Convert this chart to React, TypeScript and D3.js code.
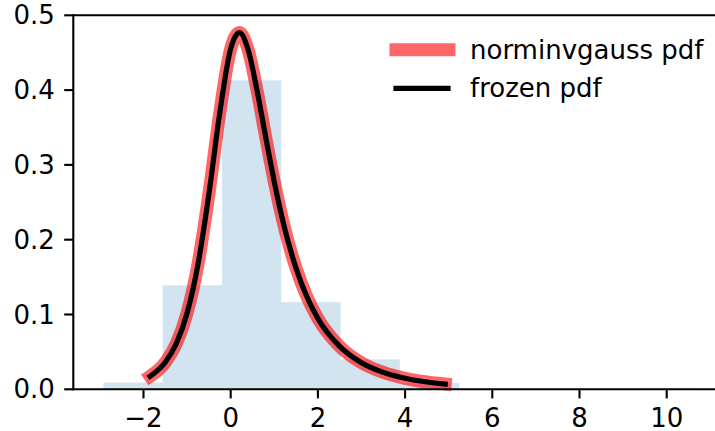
import React from "react";
import * as d3 from "d3";

const binEdges = [-2.92, -1.56, -0.2, 1.16, 2.52, 3.88, 5.24, 6.6, 7.96, 9.32, 10.68];
const binDensity = [0.009, 0.139, 0.413, 0.1165, 0.04, 0.0084, 0, 0, 0, 0.0007];

const pdfX = [-1.85, -1.5, -1.25, -1.0, -0.75, -0.5, -0.25, 0, 0.2, 0.4, 0.6, 0.8, 1.0, 1.25, 1.5, 1.75, 2.0, 2.5, 3.0, 3.5, 4.0, 4.5, 4.92];
const pdfY = [0.0174, 0.0361, 0.0608, 0.102, 0.1673, 0.2609, 0.3699, 0.4554, 0.4769, 0.4539, 0.4009, 0.3381, 0.2772, 0.2123, 0.1617, 0.1234, 0.0947, 0.0573, 0.0355, 0.0226, 0.0147, 0.0097, 0.007];

const xTicks = [-2, 0, 2, 4, 6, 8, 10];
const yTicks = [0, 0.1, 0.2, 0.3, 0.4, 0.5];
const legendLabels = ["norminvgauss pdf", "frozen pdf"];

const W = 715;
const H = 431;
const FONT = "'DejaVu Sans', sans-serif";

export default function App() {
  const x = d3.scaleLinear().domain([-3.61, 11.36]).range([73.3, 726]);
  const y = d3.scaleLinear().domain([0, 0.5]).range([389.3, 15.3]);

  const pts: [number, number][] = pdfX.map((v, i) => [v, pdfY[i]]);
  const line = d3
    .line<[number, number]>()
    .x((d) => x(d[0]))
    .y((d) => y(d[1]))
    .curve(d3.curveMonotoneX);
  const pathD = line(pts) || "";

  const axisLeft = x.range()[0];
  const axisBottom = y(0);
  const axisTop = y(0.5);

  return (
    <svg
      width={W}
      height={H}
      style={{ position: "absolute", left: 0, top: 0, background: "white" }}
      fontFamily={FONT}
    >
      <rect x={0} y={0} width={W} height={H} fill="white" />
      {binDensity.map((d, i) =>
        d > 0 ? (
          <rect
            key={i}
            x={x(binEdges[i])}
            y={y(d)}
            width={x(binEdges[i + 1]) - x(binEdges[i])}
            height={y(0) - y(d)}
            fill="#1f77b4"
            fillOpacity={0.2}
          />
        ) : null
      )}
      <path
        d={pathD}
        fill="none"
        stroke="red"
        strokeOpacity={0.6}
        strokeWidth={13}
        strokeLinecap="square"
        strokeLinejoin="round"
      />
      <path
        d={pathD}
        fill="none"
        stroke="black"
        strokeWidth={5.2}
        strokeLinecap="square"
        strokeLinejoin="round"
      />
      {/* spines */}
      <line x1={axisLeft} x2={axisLeft} y1={axisTop} y2={axisBottom} stroke="black" strokeWidth={2.1} strokeLinecap="square" />
      <line x1={axisLeft} x2={W + 5} y1={axisBottom} y2={axisBottom} stroke="black" strokeWidth={2.1} strokeLinecap="square" />
      <line x1={axisLeft} x2={W + 5} y1={axisTop} y2={axisTop} stroke="black" strokeWidth={2.1} strokeLinecap="square" />
      {/* y ticks */}
      {yTicks.map((t) => (
        <g key={"y" + t}>
          <line x1={axisLeft - 9.1} x2={axisLeft} y1={y(t)} y2={y(t)} stroke="black" strokeWidth={2.1} />
          <text
            x={axisLeft - 18.5}
            y={y(t)}
            textAnchor="end"
            dominantBaseline="central"
            fontSize={26}
            fill="black"
          >
            {t.toFixed(1)}
          </text>
        </g>
      ))}
      {/* x ticks */}
      {xTicks.map((t) => (
        <g key={"x" + t}>
          <line x1={x(t)} x2={x(t)} y1={axisBottom} y2={axisBottom + 9.1} stroke="black" strokeWidth={2.1} />
          <text x={x(t)} y={427} textAnchor="middle" fontSize={26} fill="black">
            {t < 0 ? "\u2212" + Math.abs(t) : String(t)}
          </text>
        </g>
      ))}
      {/* legend */}
      <line x1={396} x2={449} y1={49.7} y2={49.7} stroke="red" strokeOpacity={0.6} strokeWidth={13} strokeLinecap="square" />
      <line x1={396} x2={448} y1={88.3} y2={88.3} stroke="black" strokeWidth={5.2} strokeLinecap="square" />
      <text x={470} y={58.5} fontSize={26} fill="black">
        {legendLabels[0]}
      </text>
      <text x={470} y={96.8} fontSize={26} fill="black">
        {legendLabels[1]}
      </text>
    </svg>
  );
}
